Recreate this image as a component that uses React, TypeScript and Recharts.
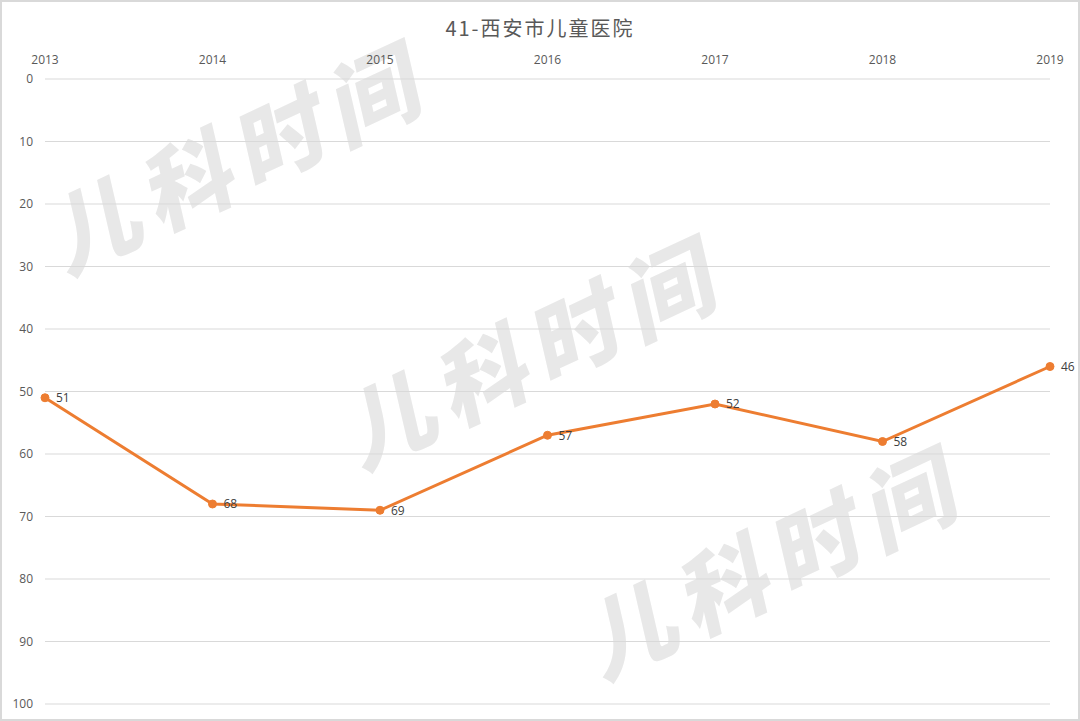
import React from 'react';
import { LineChart, Line, XAxis, YAxis, CartesianGrid, LabelList } from 'recharts';

const years = ['2013', '2014', '2015', '2016', '2017', '2018', '2019'];
const ranks = [51, 68, 69, 57, 52, 58, 46];
const yTicks = [0, 10, 20, 30, 40, 50, 60, 70, 80, 90, 100];
const title = '41-西安市儿童医院';
const watermark = '儿科时间';
const watermarkCenters = [
  { left: 242, top: 150 },
  { left: 537, top: 345 },
  { left: 778, top: 555 },
];

const data = years.map((y, i) => ({ year: y, rank: ranks[i] }));

const FONT = '"Open Sans", "Noto Sans CJK SC", sans-serif';

export default function App() {
  return (
    <div style={{ position: 'absolute', left: 0, top: 0, width: 1080, height: 721, background: '#fff', overflow: 'hidden', fontFamily: FONT }}>
      {watermarkCenters.map((c, i) => (
        <div
          key={i}
          style={{
            position: 'absolute',
            left: c.left,
            top: c.top,
            transform: 'translate(-50%, -50%) rotate(-25deg) skewX(-12deg)',
            fontFamily: '"Noto Sans CJK SC", sans-serif',
            fontWeight: 900,
            fontSize: 90,
            letterSpacing: 12,
            color: '#e8e8e8',
            whiteSpace: 'nowrap',
            lineHeight: 1,
          }}
        >
          {watermark}
        </div>
      ))}
      <div
        style={{
          position: 'absolute',
          left: 0,
          top: 16,
          width: 1080,
          height: 24,
          lineHeight: '24px',
          textAlign: 'center',
          fontSize: 20,
          letterSpacing: 2,
          color: '#595959',
          fontFamily: '"Noto Sans CJK SC", "Open Sans", sans-serif',
        }}
      >
        {title}
      </div>
      <div style={{ position: 'absolute', left: 0, top: 0 }}>
        <LineChart width={1080} height={721} data={data} margin={{ top: 49, right: 30, bottom: 17, left: 0 }}>
          <CartesianGrid vertical={false} stroke="#d9d9d9" strokeWidth={1} />
          <XAxis
            dataKey="year"
            orientation="top"
            axisLine={false}
            tickLine={false}
            interval={0}
            height={30}
            tickMargin={9}
            tick={{ fill: '#595959', fontSize: 12, fontFamily: FONT }}
          />
          <YAxis
            type="number"
            domain={[0, 100]}
            ticks={yTicks}
            reversed
            axisLine={false}
            tickLine={false}
            width={45}
            tickSize={6}
            tickMargin={6}
            tick={{ fill: '#595959', fontSize: 12, fontFamily: FONT }}
          />
          <Line
            type="linear"
            dataKey="rank"
            stroke="#ED7D31"
            strokeWidth={3}
            dot={{ r: 4, fill: '#ED7D31', stroke: '#ED7D31', strokeWidth: 1 }}
            isAnimationActive={false}
          >
            <LabelList dataKey="rank" position="right" offset={11} fill="#404040" fontSize={12} fontFamily={FONT} />
          </Line>
        </LineChart>
      </div>
      <div style={{ position: 'absolute', left: 0, top: 0, width: 1080, height: 721, boxSizing: 'border-box', border: '2px solid #d9d9d9', pointerEvents: 'none' }} />
    </div>
  );
}
